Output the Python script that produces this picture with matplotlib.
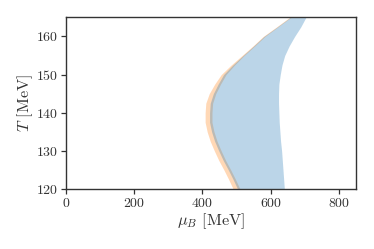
import matplotlib
matplotlib.use("Agg")
import matplotlib.pyplot as plt

plt.rcParams['font.family'] = 'serif'
plt.rcParams['font.serif'] = ['cmr10']
plt.rcParams['mathtext.fontset'] = 'cm'
plt.rcParams['axes.formatter.use_mathtext'] = True
plt.rcParams['axes.unicode_minus'] = False

# temperature grid [MeV]
T = [120, 122.5, 125, 127.5, 130, 132.5, 135, 137.5, 140, 142.5,
     145, 147.5, 150, 152.5, 155, 157.5, 160, 162.5, 165]

# orange band edges, mu_B [MeV]
orange_lo = [490, 477, 463, 448, 435, 423, 414, 408, 408, 410,
             420, 436, 455, 484, 516, 548, 578, 617, 655]
orange_hi = [510, 497, 483, 468, 455, 443, 434, 428, 428, 430,
             439, 453, 469, 494, 522, 553, 583, 621, 659]

# blue band edges, mu_B [MeV]
blue_lo = [503, 490, 476, 461, 448, 436, 427, 421, 421, 423,
           432, 446, 462, 489, 519, 550, 580, 619, 657]
blue_hi = [640, 638, 636, 634, 632, 629, 627, 625, 624, 623,
           623, 624, 628, 633, 641, 654, 670, 688, 703]

fig = plt.figure(figsize=(3.74, 2.49), dpi=100)
ax = fig.add_axes([0.176, 0.241, 0.776, 0.689])

ax.fill_betweenx(T, orange_lo, orange_hi, color='C1', alpha=0.3, lw=0)
ax.fill_betweenx(T, blue_lo, blue_hi, color='C0', alpha=0.3, lw=0)

ax.set_xlim(0, 850)
ax.set_ylim(120, 165)
ax.set_xticks([0, 200, 400, 600, 800])
ax.set_yticks([120, 130, 140, 150, 160])

ax.set_xlabel(r'$\mu_B$ [MeV]', fontsize=11.7, color='#333333', labelpad=1)
ax.set_ylabel(r'$T$ [MeV]', fontsize=11.7, color='#333333', labelpad=1)
ax.tick_params(labelsize=10, colors='#333333', length=3.5, width=0.9, pad=2)
for s in ax.spines.values():
    s.set_color('#333333')
    s.set_linewidth(1.0)

fig.savefig('out.png', dpi=100)
